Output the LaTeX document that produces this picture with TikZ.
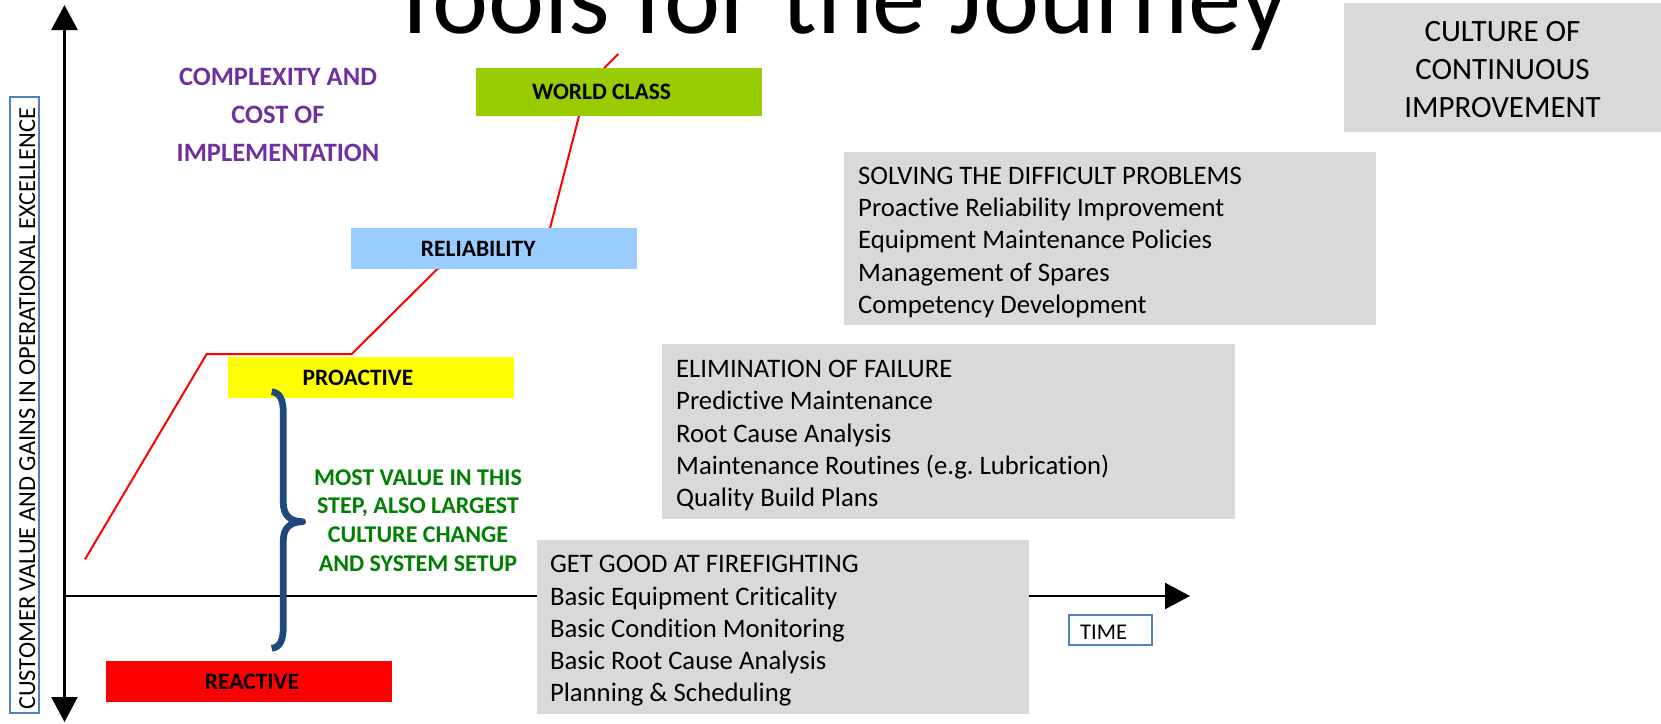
\documentclass[tikz,border=0pt]{standalone}
\usepackage{fontspec}
\setmainfont{Carlito}[Ligatures=CommonOff]
\usetikzlibrary{arrows.meta}

\definecolor{worldgreen}{HTML}{99CC00}
\definecolor{reliblue}{HTML}{99CCFF}
\definecolor{proyellow}{HTML}{FFFF00}
\definecolor{reactred}{HTML}{FF0000}
\definecolor{toolgrey}{HTML}{D9D9D9}
\definecolor{frameblue}{HTML}{4F81BD}
\definecolor{bracenavy}{HTML}{1F497D}
\definecolor{notepurple}{HTML}{7030A0}
\definecolor{notegreen}{HTML}{008000}

\tikzset{
  stagebox/.style={anchor=north west, inner sep=0pt, outer sep=0pt, minimum width=286pt},
  stagelabel/.style={anchor=west, inner sep=0pt, font=\bfseries\fontsize{23.5}{28}\selectfont},
  toolbox/.style={anchor=north west, fill=toolgrey, inner sep=0pt, outer sep=0pt},
  tooltext/.style={anchor=west, inner sep=0pt, align=left, font=\fontsize{26.7}{32.3}\selectfont},
  framebox/.style={draw=frameblue, line width=2pt, anchor=north west, inner sep=0pt, outer sep=0pt},
  axisline/.style={line width=2.5pt},
}

\begin{document}
\begin{tikzpicture}[x=1pt, y=-1pt, >={Triangle[length=25pt, width=26pt]}]
  \useasboundingbox (0,0) rectangle (1661,723);

  % title, cut by the top edge
  \node[anchor=base west, inner sep=0pt, font=\fontsize{106.3}{120}\selectfont] (title) at (389.7,33) {Tools for the Journey};

  % the journey line
  \draw[red, line width=2pt] (85,559.3) -- (206.7,354) -- (351.7,354) -- (437.3,269) -- (550,228.3)
    -- (579,116) -- (604,68.3) -- (618.3,54);

  % axes
  \coordinate (origin) at (64.5,596);
  \coordinate (ytop) at (64.5,5);
  \coordinate (ybottom) at (64.5,722);
  \coordinate (xend) at (1190,596);
  \draw[axisline, <->] (ytop) -- (ybottom);
  \draw[axisline, ->] (origin) -- (xend);

  \node[framebox, minimum width=29.3pt, minimum height=615.4pt] (ybox) at (10,97.3) {};
  \node[rotate=90, anchor=base west, inner sep=0pt, font=\fontsize{24.4}{28}\selectfont] (ylabel) at (35,710)
    {CUSTOMER VALUE AND GAINS IN OPERATIONAL EXCELLENCE};

  % stages
  \node[stagebox, fill=worldgreen, minimum height=47.7pt] (world) at (476,68.3) {};
  \node[stagelabel] (worldtext) at ([xshift=55.8pt]world.west) {WORLD CLASS};
  \node[stagebox, fill=reliblue, minimum height=40.7pt] (reli) at (351,228.3) {};
  \node[stagelabel] (relitext) at ([xshift=69.7pt]reli.west) {RELIABILITY};
  \node[stagebox, fill=proyellow, minimum height=40.4pt] (pro) at (227.9,357.2) {};
  \node[stagelabel] (protext) at ([xshift=74.4pt]pro.west) {PROACTIVE};
  \node[stagebox, fill=reactred, minimum height=41.3pt] (react) at (106,661) {};
  \node[stagelabel] (reacttext) at ([xshift=98.7pt]react.west) {REACTIVE};

  % brace
  \draw[bracenavy, line width=6.7pt, line join=round] (271.7,391.7) .. controls (280,392.5) and (283.3,400) .. (283.3,413)
    -- (283.3,503) .. controls (283.3,515) and (290,521.7) .. (302.7,521.7)
    .. controls (290,521.7) and (283.3,528.4) .. (283.3,540.4)
    -- (283.3,627) .. controls (283.3,640) and (280,647.5) .. (271.7,648.3);

  % notes
  \node[align=center, text=notepurple, font=\bfseries\fontsize{26.5}{38}\selectfont] (cost) at (278,115.3)
    {COMPLEXITY AND\\COST OF\\IMPLEMENTATION};
  \node[align=center, text=notegreen, font=\bfseries\fontsize{24}{28.6}\selectfont] (value) at (418,520.4)
    {MOST VALUE IN THIS\\STEP, ALSO LARGEST\\CULTURE CHANGE\\AND SYSTEM SETUP};

  % tools
  \node[toolbox, minimum width=317pt, minimum height=129pt] (culture) at (1344,3) {};
  \node[align=center, inner sep=0pt, font=\fontsize{31}{38.2}\selectfont] (culturetext) at ([yshift=-2pt]culture.center)
    {CULTURE OF\\CONTINUOUS\\IMPROVEMENT};

  \node[toolbox, minimum width=531.7pt, minimum height=173.7pt] (solve) at (844.3,151.5) {};
  \node[tooltext] (solvetext) at ([xshift=13.7pt, yshift=-4pt]solve.west)
    {SOLVING THE DIFFICULT PROBLEMS\\Proactive Reliability Improvement\\Equipment Maintenance Policies\\Management of Spares\\Competency Development};

  \node[toolbox, minimum width=573pt, minimum height=174.7pt] (elim) at (662,344.3) {};
  \node[tooltext] (elimtext) at ([xshift=14pt, yshift=-4pt]elim.west)
    {ELIMINATION OF FAILURE\\Predictive Maintenance\\Root Cause Analysis\\Maintenance Routines (e.g.\ Lubrication)\\Quality Build Plans};

  \node[toolbox, minimum width=491.6pt, minimum height=174pt] (fire) at (537,540) {};
  \node[tooltext] (firetext) at ([xshift=12.8pt, yshift=-4pt]fire.west)
    {GET GOOD AT FIREFIGHTING\\Basic Equipment Criticality\\Basic Condition Monitoring\\Basic Root Cause Analysis\\Planning \& Scheduling};

  \node[framebox, minimum width=82.7pt, minimum height=30pt] (time) at (1069,615) {};
  \node[anchor=west, inner sep=0pt, font=\fontsize{22.5}{27}\selectfont] (timetext) at ([xshift=11pt, yshift=-2pt]time.west) {TIME};
\end{tikzpicture}
\end{document}
